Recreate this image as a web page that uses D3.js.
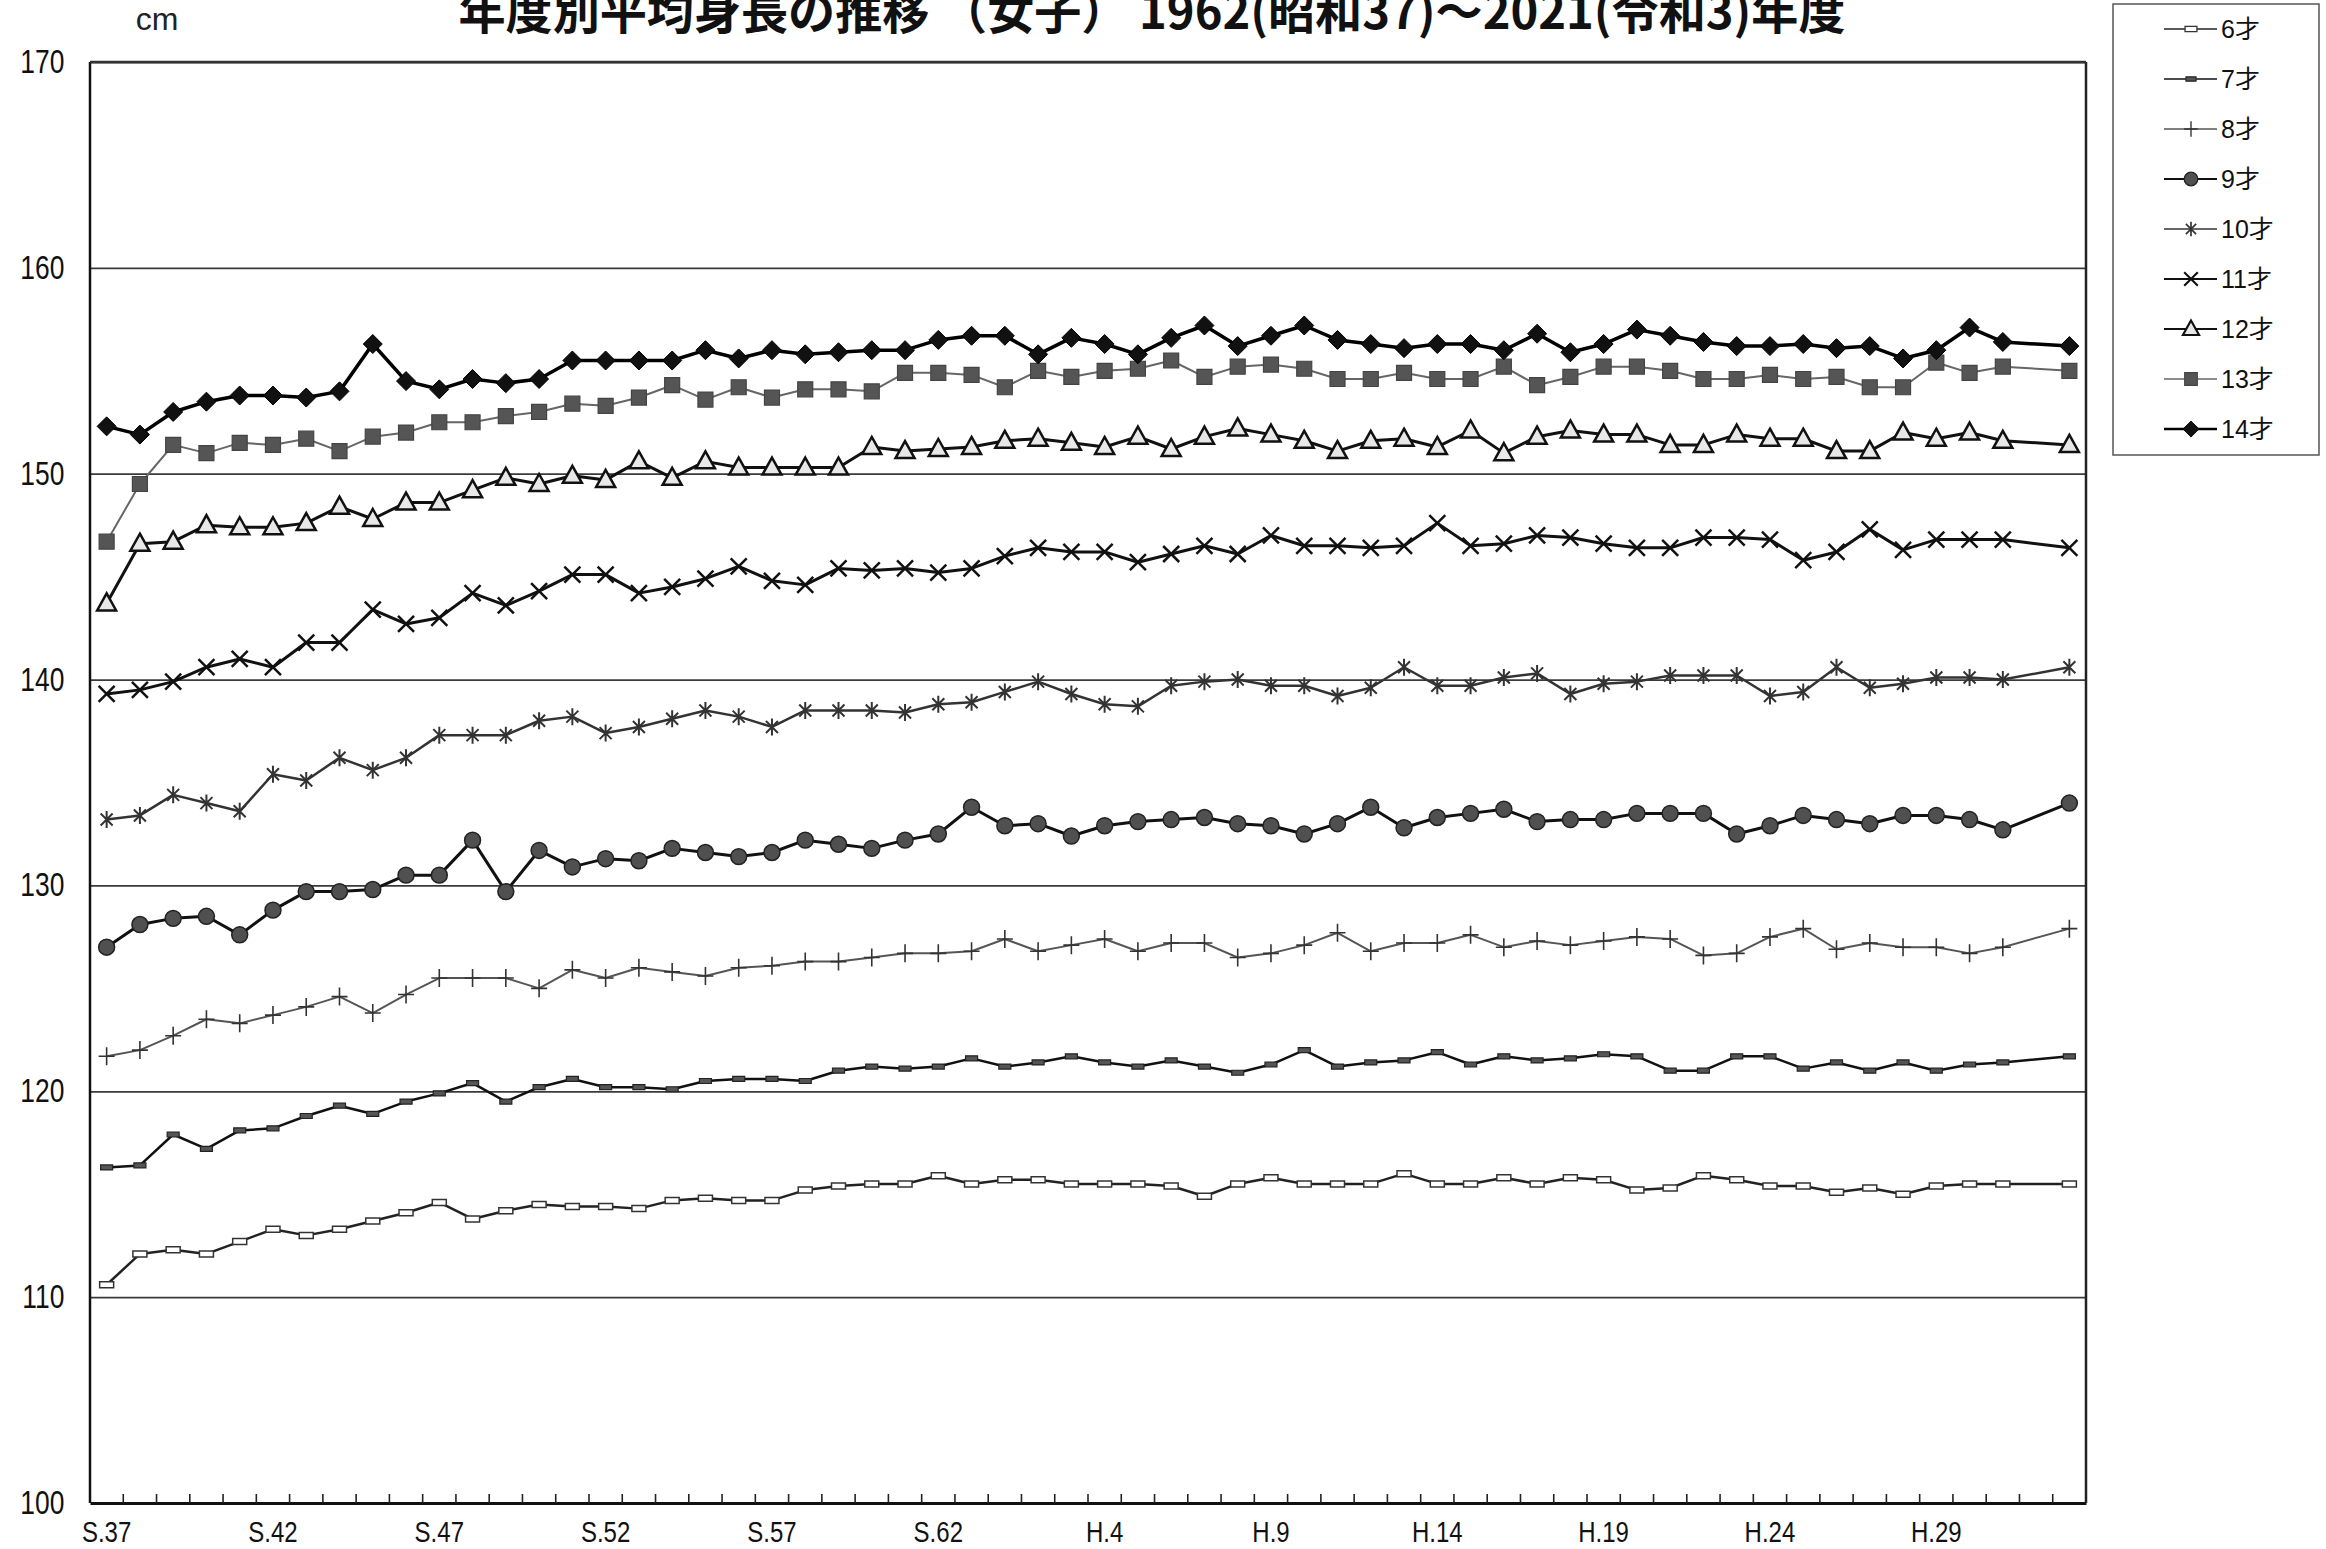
<!DOCTYPE html>
<html>
<head>
<meta charset="utf-8">
<script src="https://cdn.jsdelivr.net/npm/d3@7"></script>
<style>
  body { margin: 0; background: #fff; }
  svg { display: block; }
</style>
</head>
<body>
<div id="chart"></div>
<script>
// years 1962 (S.37) .. 2021 (R.3); 2020 has no value
var yearLabels = ["S.37","S.38","S.39","S.40","S.41","S.42","S.43","S.44","S.45","S.46",
  "S.47","S.48","S.49","S.50","S.51","S.52","S.53","S.54","S.55","S.56",
  "S.57","S.58","S.59","S.60","S.61","S.62","S.63","H.1","H.2","H.3",
  "H.4","H.5","H.6","H.7","H.8","H.9","H.10","H.11","H.12","H.13",
  "H.14","H.15","H.16","H.17","H.18","H.19","H.20","H.21","H.22","H.23",
  "H.24","H.25","H.26","H.27","H.28","H.29","H.30","R.1","R.2","R.3"];
var tickLabels = ["S.37","S.42","S.47","S.52","S.57","S.62","H.4","H.9","H.14","H.19","H.24","H.29"];
var yTicks = [100, 110, 120, 130, 140, 150, 160, 170];

var h6 = [110.6,112.1,112.3,112.1,112.7,113.3,113.0,113.3,113.7,114.1,114.6,113.8,114.2,114.5,114.4,
  114.4,114.3,114.7,114.8,114.7,114.7,115.2,115.4,115.5,115.5,115.9,115.5,115.7,115.7,115.5,
  115.5,115.5,115.4,114.9,115.5,115.8,115.5,115.5,115.5,116.0,115.5,115.5,115.8,115.5,115.8,
  115.7,115.2,115.3,115.9,115.7,115.4,115.4,115.1,115.3,115.0,115.4,115.5,115.5,null,115.5];
var h7 = [116.3,116.4,117.9,117.2,118.1,118.2,118.8,119.3,118.9,119.5,119.9,120.4,119.5,120.2,120.6,
  120.2,120.2,120.1,120.5,120.6,120.6,120.5,121.0,121.2,121.1,121.2,121.6,121.2,121.4,121.7,
  121.4,121.2,121.5,121.2,120.9,121.3,122.0,121.2,121.4,121.5,121.9,121.3,121.7,121.5,121.6,
  121.8,121.7,121.0,121.0,121.7,121.7,121.1,121.4,121.0,121.4,121.0,121.3,121.4,null,121.7];
var h8 = [121.7,122.0,122.7,123.5,123.3,123.7,124.1,124.6,123.8,124.7,125.5,125.5,125.5,125.0,125.9,
  125.5,126.0,125.8,125.6,126.0,126.1,126.3,126.3,126.5,126.7,126.7,126.8,127.4,126.8,127.1,
  127.4,126.8,127.2,127.2,126.5,126.7,127.1,127.7,126.8,127.2,127.2,127.6,127.0,127.3,127.1,
  127.3,127.5,127.4,126.6,126.7,127.5,127.9,126.9,127.2,127.0,127.0,126.7,127.0,null,127.9];
var h9 = [127.0,128.1,128.4,128.5,127.6,128.8,129.7,129.7,129.8,130.5,130.5,132.2,129.7,131.7,130.9,
  131.3,131.2,131.8,131.6,131.4,131.6,132.2,132.0,131.8,132.2,132.5,133.8,132.9,133.0,132.4,
  132.9,133.1,133.2,133.3,133.0,132.9,132.5,133.0,133.8,132.8,133.3,133.5,133.7,133.1,133.2,
  133.2,133.5,133.5,133.5,132.5,132.9,133.4,133.2,133.0,133.4,133.4,133.2,132.7,null,134.0];
var h10 = [133.2,133.4,134.4,134.0,133.6,135.4,135.1,136.2,135.6,136.2,137.3,137.3,137.3,138.0,138.2,
  137.4,137.7,138.1,138.5,138.2,137.7,138.5,138.5,138.5,138.4,138.8,138.9,139.4,139.9,139.3,
  138.8,138.7,139.7,139.9,140.0,139.7,139.7,139.2,139.6,140.6,139.7,139.7,140.1,140.3,139.3,
  139.8,139.9,140.2,140.2,140.2,139.2,139.4,140.6,139.6,139.8,140.1,140.1,140.0,null,140.6];
var h11 = [139.3,139.5,139.9,140.6,141.0,140.6,141.8,141.8,143.4,142.7,143.0,144.2,143.6,144.3,145.1,
  145.1,144.2,144.5,144.9,145.5,144.8,144.6,145.4,145.3,145.4,145.2,145.4,146.0,146.4,146.2,
  146.2,145.7,146.1,146.5,146.1,147.0,146.5,146.5,146.4,146.5,147.6,146.5,146.6,147.0,146.9,
  146.6,146.4,146.4,146.9,146.9,146.8,145.8,146.2,147.3,146.3,146.8,146.8,146.8,null,146.4];
var h12 = [143.7,146.6,146.7,147.5,147.4,147.4,147.6,148.4,147.8,148.6,148.6,149.2,149.8,149.5,149.9,
  149.7,150.6,149.8,150.6,150.3,150.3,150.3,150.3,151.3,151.1,151.2,151.3,151.6,151.7,151.5,
  151.3,151.8,151.2,151.8,152.2,151.9,151.6,151.1,151.6,151.7,151.3,152.1,151.0,151.8,152.1,
  151.9,151.9,151.4,151.4,151.9,151.7,151.7,151.1,151.1,152.0,151.7,152.0,151.6,null,151.4];
var h13 = [146.7,149.5,151.4,151.0,151.5,151.4,151.7,151.1,151.8,152.0,152.5,152.5,152.8,153.0,153.4,
  153.3,153.7,154.3,153.6,154.2,153.7,154.1,154.1,154.0,154.9,154.9,154.8,154.2,155.0,154.7,
  155.0,155.1,155.5,154.7,155.2,155.3,155.1,154.6,154.6,154.9,154.6,154.6,155.2,154.3,154.7,
  155.2,155.2,155.0,154.6,154.6,154.8,154.6,154.7,154.2,154.2,155.4,154.9,155.2,null,155.0];
var h14 = [152.3,151.9,153.0,153.5,153.8,153.8,153.7,154.0,156.3,154.5,154.1,154.6,154.4,154.6,155.5,
  155.5,155.5,155.5,156.0,155.6,156.0,155.8,155.9,156.0,156.0,156.5,156.7,156.7,155.8,156.6,
  156.3,155.8,156.6,157.2,156.2,156.7,157.2,156.5,156.3,156.1,156.3,156.3,156.0,156.8,155.9,
  156.3,157.0,156.7,156.4,156.2,156.2,156.3,156.1,156.2,155.6,156.0,157.1,156.4,null,156.2];

var ageNames = ["6才","7才","8才","9才","10才","11才","12才","13才","14才"];

// marker shapes, drawn around 0,0
var shapes = {
  rectOpen: "M-7,-3h14v6h-14Z",
  rectDark: "M-6,-2.5h12v5h-12Z",
  plus: "M-8,0L8,0M0,-9L0,9",
  circle: d3.symbol(d3.symbolCircle, 200)(),
  star: "M-6,-6L6,6M6,-6L-6,6M0,-8.5L0,8.5",
  cross: "M-8,-8L8,8M8,-8L-8,8",
  tri: "M0,-10L9.5,7L-9.5,7Z",
  square: "M-7.5,-7.5h15v15h-15Z",
  diamond: "M0,-9.5L9.5,0L0,9.5L-9.5,0Z"
};

var series = [
  {name: ageNames[0], values: h6,  shape: "rectOpen", line: "#222", lw: 2.5, fill: "#fff", stroke: "#333", sw: 1.5},
  {name: ageNames[1], values: h7,  shape: "rectDark", line: "#111", lw: 2.5, fill: "#555", stroke: "#222", sw: 1.2},
  {name: ageNames[2], values: h8,  shape: "plus",     line: "#555", lw: 2,   fill: "none", stroke: "#333", sw: 1.6},
  {name: ageNames[3], values: h9,  shape: "circle",   line: "#111", lw: 3,   fill: "#505050", stroke: "#222", sw: 1.5},
  {name: ageNames[4], values: h10, shape: "star",     line: "#333", lw: 2.5, fill: "none", stroke: "#333", sw: 2},
  {name: ageNames[5], values: h11, shape: "cross",    line: "#111", lw: 3,   fill: "none", stroke: "#111", sw: 2.5},
  {name: ageNames[6], values: h12, shape: "tri",      line: "#111", lw: 3,   fill: "#e8e8e8", stroke: "#111", sw: 2.5},
  {name: ageNames[7], values: h13, shape: "square",   line: "#666", lw: 2,   fill: "#555", stroke: "#444", sw: 1.2},
  {name: ageNames[8], values: h14, shape: "diamond",  line: "#000", lw: 3.5, fill: "#111", stroke: "#000", sw: 1}
];

var W = 2326, H = 1549;
var margin = {top: 62, right: 240, bottom: 46, left: 90};
var width = W - margin.left - margin.right,
    height = H - margin.top - margin.bottom;
var narrow = "'Liberation Sans Narrow', 'Arial Narrow', 'Liberation Sans', Arial, sans-serif";

var svg = d3.select("#chart").append("svg")
  .attr("width", W).attr("height", H)
  .style("font-family", "'Liberation Sans', Arial, sans-serif");

var g = svg.append("g").attr("transform", "translate(" + margin.left + "," + margin.top + ")");

var x = d3.scaleBand().domain(yearLabels).range([0, width]).padding(0);
var y = d3.scaleLinear().domain([100, 170]).range([height, 0]);
var cx = function (lab) { return x(lab) + x.bandwidth() / 2; };

// horizontal grid
g.append("g")
  .call(d3.axisLeft(y).tickValues(yTicks.slice(1)).tickSize(-width).tickFormat(""))
  .call(function (a) {
    a.select(".domain").remove();
    a.selectAll("line").attr("stroke", "#3a3a3a").attr("stroke-width", 1.8);
  });

// y labels (condensed look)
g.append("g")
  .call(d3.axisLeft(y).tickValues(yTicks).tickSize(0).tickPadding(32))
  .call(function (a) {
    a.select(".domain").remove();
    a.selectAll("text").attr("font-size", 33).attr("fill", "#111")
      .attr("font-family", "'Liberation Sans', Arial, sans-serif")
      .attr("transform", "scale(0.8,1)");
  });

// frame: left, right, top
g.append("line").attr("x1", 0).attr("x2", 0).attr("y1", 0).attr("y2", height)
  .attr("stroke", "#111").attr("stroke-width", 2.5);
g.append("line").attr("x1", width).attr("x2", width).attr("y1", 0).attr("y2", height)
  .attr("stroke", "#222").attr("stroke-width", 2.5);
g.append("line").attr("x1", 0).attr("x2", width).attr("y1", y(170)).attr("y2", y(170))
  .attr("stroke", "#333").attr("stroke-width", 2.5);

// x axis with labels
g.append("g").attr("transform", "translate(0," + height + ")")
  .call(d3.axisBottom(x).tickValues(tickLabels).tickSize(0).tickPadding(18))
  .call(function (a) {
    a.select(".domain").attr("stroke", "#111").attr("stroke-width", 3);
    a.selectAll("text").attr("font-size", 30).attr("fill", "#111")
      .attr("font-family", "'Liberation Sans', Arial, sans-serif")
      .attr("transform", "scale(0.8,1)");
  });

// small inner ticks at category boundaries
g.append("g").selectAll("line")
  .data(yearLabels.slice(1))
  .join("line")
  .attr("x1", function (d) { return x(d); })
  .attr("x2", function (d) { return x(d); })
  .attr("y1", height).attr("y2", height - 9)
  .attr("stroke", "#222").attr("stroke-width", 1.6);

// series
var line = d3.line()
  .x(function (d) { return cx(d.label); })
  .y(function (d) { return y(d.v); });

series.forEach(function (s) {
  var pts = [];
  s.values.forEach(function (v, i) {
    if (v != null) pts.push({label: yearLabels[i], v: v});
  });
  g.append("path").datum(pts)
    .attr("d", line)
    .attr("fill", "none")
    .attr("stroke", s.line)
    .attr("stroke-width", s.lw)
    .attr("stroke-linejoin", "round");
  g.append("g").selectAll("path")
    .data(pts)
    .join("path")
    .attr("d", shapes[s.shape])
    .attr("transform", function (d) { return "translate(" + cx(d.label) + "," + y(d.v) + ")"; })
    .attr("fill", s.fill)
    .attr("stroke", s.stroke)
    .attr("stroke-width", s.sw);
});

// title (top is cropped in the original scan) and unit
svg.append("text")
  .attr("x", 1152).attr("y", 29)
  .attr("text-anchor", "middle")
  .attr("font-size", 48).attr("font-weight", "bold")
  .attr("font-family", "'Noto Sans CJK JP', sans-serif")
  .attr("textLength", 1387).attr("lengthAdjust", "spacingAndGlyphs")
  .attr("fill", "#111")
  .text("年度別平均身長の推移 （女子） 1962(昭和37)～2021(令和3)年度");

svg.append("text")
  .attr("x", 157).attr("y", 30)
  .attr("text-anchor", "middle")
  .attr("font-size", 32).attr("fill", "#222")
  .text("cm");

// legend
var lg = svg.append("g");
lg.append("rect")
  .attr("x", 2113).attr("y", 4).attr("width", 206).attr("height", 451)
  .attr("fill", "#fff").attr("stroke", "#555").attr("stroke-width", 1.5);

var rows = lg.selectAll("g.row")
  .data(series)
  .join("g")
  .attr("class", "row")
  .attr("transform", function (d, i) { return "translate(2164," + (29 + i * 50) + ")"; });

rows.append("line")
  .attr("x1", 0).attr("x2", 53).attr("y1", 0).attr("y2", 0)
  .attr("stroke", function (d) { return d.line; })
  .attr("stroke-width", function (d) { return Math.max(1.5, d.lw - 0.8); });
rows.append("path")
  .attr("d", function (d) { return shapes[d.shape]; })
  .attr("transform", "translate(27,0) scale(0.85)")
  .attr("fill", function (d) { return d.fill; })
  .attr("stroke", function (d) { return d.stroke; })
  .attr("stroke-width", function (d) { return d.sw; });
rows.append("text")
  .attr("x", 57).attr("y", 0).attr("dy", "0.36em")
  .attr("font-size", 25).attr("fill", "#111")
  .attr("font-family", "'Liberation Sans', 'Noto Sans CJK JP', sans-serif")
  .text(function (d) { return d.name; });
</script>
</body>
</html>
